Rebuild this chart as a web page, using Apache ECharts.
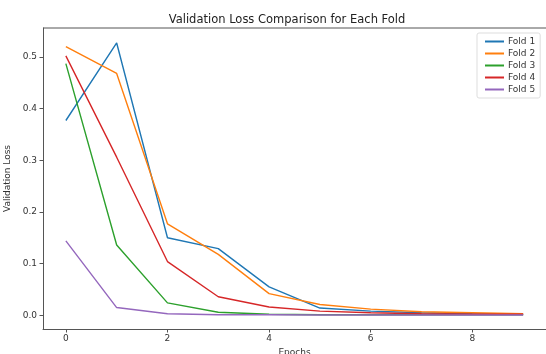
<!DOCTYPE html>
<html>
<head>
<meta charset="utf-8">
<script src="https://cdn.jsdelivr.net/npm/echarts@6/dist/echarts.min.js"></script>
<style>
  html, body { margin: 0; padding: 0; background: #fff; }
  #chart { width: 546px; height: 354px; }
</style>
</head>
<body>
<div id="chart"></div>
<script>
const epochs = [0, 1, 2, 3, 4, 5, 6, 7, 8, 9];
const foldNames = ['Fold 1', 'Fold 2', 'Fold 3', 'Fold 4', 'Fold 5'];
const fold1 = [0.377, 0.527, 0.150, 0.129, 0.055, 0.014, 0.008, 0.005, 0.003, 0.002];
const fold2 = [0.520, 0.468, 0.177, 0.118, 0.042, 0.021, 0.012, 0.007, 0.005, 0.003];
const fold3 = [0.487, 0.136, 0.024, 0.006, 0.002, 0.001, 0.001, 0.001, 0.001, 0.001];
const fold4 = [0.502, 0.306, 0.104, 0.036, 0.016, 0.008, 0.005, 0.003, 0.002, 0.002];
const fold5 = [0.144, 0.015, 0.003, 0.001, 0.001, 0.0005, 0.0005, 0.0005, 0.0005, 0.0005];
const xTicks = [0, 2, 4, 6, 8];
const yTicks = [0, 0.1, 0.2, 0.3, 0.4, 0.5];

const colors = ['#1f77b4', '#ff7f0e', '#2ca02c', '#d62728', '#9467bd'];
const allFolds = [fold1, fold2, fold3, fold4, fold5];
const font = 'DejaVu Sans';
const ink = '#333';

const chart = echarts.init(document.getElementById('chart'), null, { renderer: 'canvas' });
chart.setOption({
  animation: false,
  title: {
    text: 'Validation Loss Comparison for Each Fold',
    left: 282, top: 9, textAlign: 'center',
    textStyle: { fontFamily: font, fontSize: 11.5, fontWeight: 'normal', color: '#222' }
  },
  legend: {
    data: foldNames,
    orient: 'vertical',
    left: 477, top: 33,
    padding: [4, 5, 4, 8],
    itemWidth: 19, itemHeight: 2, itemGap: 3,
    icon: 'rect',
    backgroundColor: '#fff',
    borderColor: '#ddd', borderWidth: 1, borderRadius: 2,
    textStyle: { fontFamily: font, fontSize: 9, color: ink, padding: [0, 0, 0, -1] }
  },
  grid: { left: 43, top: 28, right: 0, bottom: 25, containLabel: false, outerBoundsMode: 'none' },
  xAxis: {
    type: 'value', min: -0.45, max: 9.45,
    name: 'Epochs', nameLocation: 'middle', nameGap: 17,
    nameTextStyle: { fontFamily: font, fontSize: 9, color: ink },
    axisLine: { onZero: false, lineStyle: { color: '#555', width: 1 } },
    axisTick: { customValues: xTicks, length: 3.5, lineStyle: { color: '#555' } },
    axisLabel: { customValues: xTicks, fontFamily: font, fontSize: 9, color: ink, margin: 5 },
    splitLine: { show: false }
  },
  yAxis: {
    type: 'value', min: -0.0265, max: 0.556,
    name: 'Validation Loss', nameLocation: 'middle', nameGap: 31,
    nameTextStyle: { fontFamily: font, fontSize: 9, color: ink },
    axisLine: { show: true, onZero: false, lineStyle: { color: '#555', width: 1 } },
    axisTick: { show: true, customValues: yTicks, length: 3.5, lineStyle: { color: '#555' } },
    axisLabel: { customValues: yTicks, fontFamily: font, fontSize: 9, color: ink, margin: 6,
      formatter: v => v.toFixed(1) },
    splitLine: { show: false }
  },
  series: allFolds.map((vals, i) => ({
    name: foldNames[i],
    type: 'line',
    data: epochs.map((e, j) => [e, vals[j]]),
    showSymbol: false,
    lineStyle: { width: 1.4, color: colors[i] },
    itemStyle: { color: colors[i] }
  }))
});

// top spine (matplotlib box)
chart.setOption({
  graphic: [{
    type: 'line', silent: true,
    shape: { x1: 43, y1: 28, x2: 546, y2: 28 },
    style: { stroke: '#555', lineWidth: 1 }
  }]
});
</script>
</body>
</html>
